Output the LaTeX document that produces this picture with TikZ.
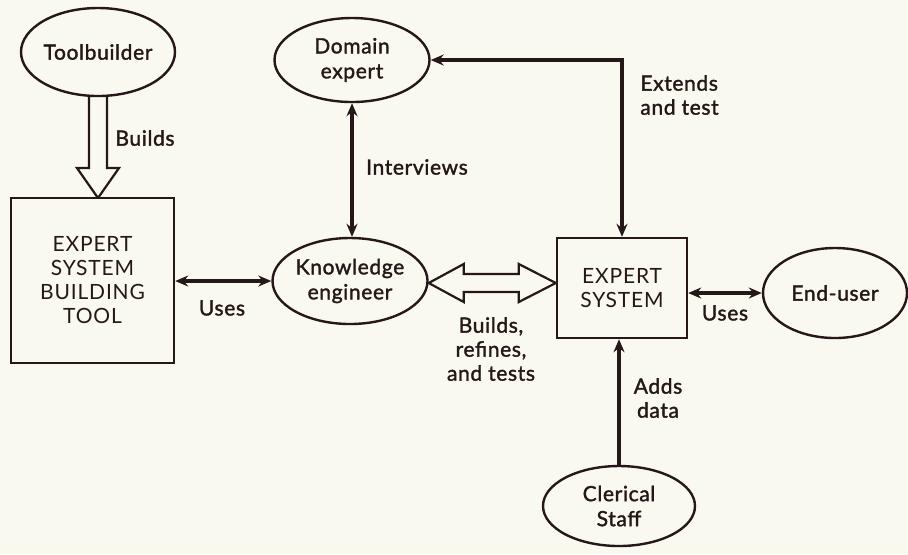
\documentclass[tikz,border=0pt]{standalone}
\usepackage{fontspec}
\setmainfont{Lato}[LetterSpace=4]
\newfontfamily\heavyface{Lato}[LetterSpace=3, FakeBold=1.6]
\usetikzlibrary{shapes.geometric,arrows.meta,calc}

\definecolor{paper}{RGB}{250,249,239}
\definecolor{ink}{RGB}{38,24,24}

\tikzset{
  actor/.style={ellipse, draw=ink, line width=1.2pt, fill=paper, inner sep=0pt,
    align=center, text=ink, font=\heavyface\fontsize{10.5}{12.5}\selectfont},
  sysbox/.style={rectangle, draw=ink, line width=1.2pt, fill=paper, inner sep=0pt,
    align=center, text=ink, font=\fontsize{10.5}{12}\selectfont},
  link/.style={draw=ink, line width=2pt},
  tips/.style={{Stealth[length=6.5pt,width=5.5pt]}-{Stealth[length=6.5pt,width=5.5pt]}},
  tipend/.style={-{Stealth[length=6.5pt,width=5.5pt]}},
  hollow/.style={draw=ink, line width=1.1pt, fill=paper, line join=miter},
  lbl/.style={text=ink, align=center, inner sep=0pt,
    font=\heavyface\fontsize{10.5}{12}\selectfont},
}

\begin{document}
\begin{tikzpicture}[x=0.5pt, y=-0.5pt]
  \fill[paper] (0,0) rectangle (908,554);
  \useasboundingbox (0,0) rectangle (908,554);

  % hollow arrows go underneath the shapes
  \coordinate (tbtop) at (98,90);
  \coordinate (tbtip) at (98,198);
  \draw[hollow] ($(tbtop)+(-9,0)$) -- ($(tbtip)+(-9,-30)$) -- ($(tbtip)+(-21,-30)$)
    -- (tbtip) -- ($(tbtip)+(21,-30)$) -- ($(tbtip)+(9,-30)$) -- ($(tbtop)+(9,0)$);

  % actors and systems
  \node[actor, minimum width=77pt, minimum height=44pt] (tb) at (98,52) {Toolbuilder};
  \node[actor, minimum width=77.5pt, minimum height=42pt] (de) at (352,60) {Domain\\expert};
  \node[actor, minimum width=77.5pt, minimum height=43pt] (ke) at (350,281) {Knowledge\\engineer};
  \node[actor, minimum width=72pt, minimum height=45pt] (eu) at (835,293) {End-user};
  \node[actor, minimum width=76pt, minimum height=40pt] (cs) at (619,506) {Clerical\\Staff};
  \node[sysbox, minimum width=81.5pt, minimum height=82.5pt] (esbt) at (92.5,280.5)
    {EXPERT\\SYSTEM\\BUILDING\\TOOL};
  \node[sysbox, minimum width=65pt, minimum height=50pt] (es) at (622,288)
    {EXPERT\\SYSTEM};

  % two-way hollow arrow between the engineer and the system
  \coordinate (hl) at ($(ke.east)+(0,2)$);
  \coordinate (hr) at (es.west |- hl);
  \draw[hollow] (hl) -- ($(hl)+(35,-19)$) -- ($(hl)+(35,-9)$) -- ($(hr)+(-37,-9)$)
    -- ($(hr)+(-37,-19)$) -- (hr) -- ($(hr)+(-37,19)$) -- ($(hr)+(-37,9)$)
    -- ($(hl)+(35,9)$) -- ($(hl)+(35,19)$) -- cycle;

  % solid connectors
  \draw[link, tips] (de.south) -- (de.south |- ke.north);
  \draw[link, tips] (de.east) -| (es.north);
  \draw[link, tips] (esbt.east |- ke.west) -- (ke.west);
  \draw[link, tips] (es.east |- eu.west) -- (eu.west);
  \draw[link, tipend] (cs.north) -- (cs.north |- es.south);

  % labels
  \node[lbl] (lbuilds) at (145,138) {Builds};
  \node[lbl] (linterv) at (417,167) {Interviews};
  \node[lbl, anchor=west, align=left] (lext) at (640,95) {Extends\\and test};
  \node[lbl] (luses1) at (222,308) {Uses};
  \node[lbl] (lbrt) at (491,349) {Builds,\\refines,\\and tests};
  \node[lbl] (luses2) at (725,313) {Uses};
  \node[lbl] (ladds) at (658,398) {Adds\\data};
\end{tikzpicture}
\end{document}
